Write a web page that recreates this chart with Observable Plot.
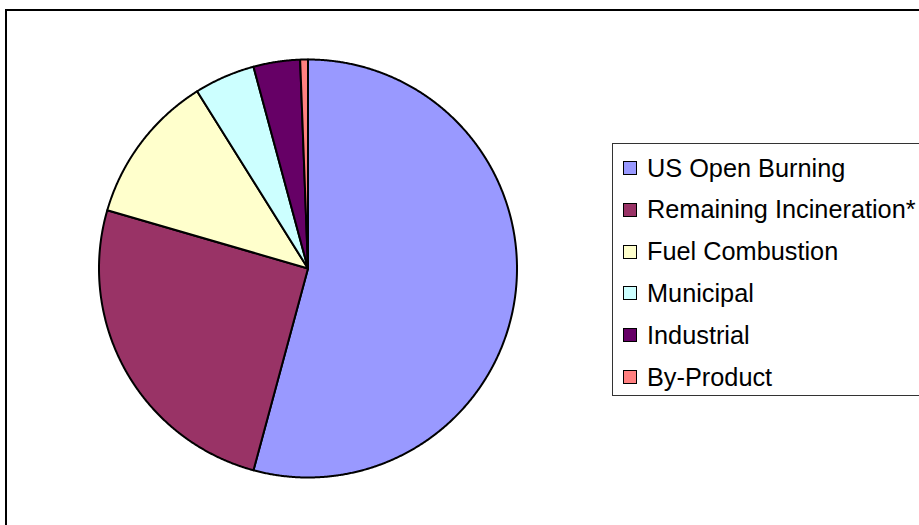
<!DOCTYPE html>
<html>
<head>
<meta charset="utf-8">
<script src="https://cdn.jsdelivr.net/npm/d3@7"></script>
<script src="https://cdn.jsdelivr.net/npm/@observablehq/plot@0.6"></script>
<style>
  html, body { margin: 0; padding: 0; background: #fff; }
  #wrap { position: relative; width: 919px; height: 525px; overflow: hidden; font-family: "Liberation Sans", Arial, sans-serif; }
  #frame { position: absolute; left: 5px; top: 9px; width: 1000px; height: 600px; border: 2px solid #000; box-sizing: border-box; }
  #plot { position: absolute; left: 0; top: 0; }
  #legend { position: absolute; left: 612px; top: 143px; width: 400px; height: 253px; border: 1px solid #333; box-sizing: border-box; background: #fff; }
  .item { position: absolute; left: 0; height: 30px; display: flex; align-items: center; }
  .sw { width: 14px; height: 14px; border: 1px solid #000; box-sizing: border-box; margin-left: 10px; margin-right: 10px; }
  .lbl { font-size: 25.3px; color: #000; white-space: nowrap; }
</style>
</head>
<body>
<div id="wrap">
  <div id="frame"></div>
  <div id="plot"></div>
  <div id="legend"></div>
</div>
<script>
const categories = ["US Open Burning", "Remaining Incineration*", "Fuel Combustion", "Municipal", "Industrial", "By-Product"];
const values = [54.2, 25.3, 11.6, 4.7, 3.6, 0.6];
const colors = ["#9999FF", "#993366", "#FFFFCC", "#CCFFFF", "#660066", "#FF8080"];

const arcs = d3.pie().sort(null).value(d => d)(values);
const rows = [];
arcs.forEach((a, i) => {
  const cat = categories[i];
  rows.push({cat, x: 0, y: 0});
  const n = Math.max(4, Math.ceil((a.endAngle - a.startAngle) / 0.005));
  for (let k = 0; k <= n; k++) {
    const t = a.startAngle + (a.endAngle - a.startAngle) * k / n;
    rows.push({cat, x: Math.sin(t), y: Math.cos(t)});
  }
  rows.push({cat, x: 0, y: 0});
});

const cx = 307.5, cy = 268, r = 209;
const chart = Plot.plot({
  width: 919,
  height: 525,
  margin: 0,
  x: {domain: [-1, 1], range: [cx - r, cx + r], axis: null},
  y: {domain: [-1, 1], range: [cy + r, cy - r], axis: null},
  color: {domain: categories, range: colors},
  style: {background: "transparent", overflow: "visible"},
  marks: [
    Plot.line(rows, {x: "x", y: "y", z: "cat", fill: "cat", stroke: "#000", strokeWidth: 2, strokeLinejoin: "round", curve: "linear"})
  ]
});
document.getElementById("plot").appendChild(chart);

const legend = document.getElementById("legend");
const firstCenter = 167 - 143;
categories.forEach((c, i) => {
  const it = document.createElement("div");
  it.className = "item";
  it.style.top = (firstCenter + i * 41.8 - 15) + "px";
  const sw = document.createElement("div");
  sw.className = "sw";
  sw.style.background = colors[i];
  const lb = document.createElement("span");
  lb.className = "lbl";
  lb.textContent = c;
  it.appendChild(sw);
  it.appendChild(lb);
  legend.appendChild(it);
});
</script>
</body>
</html>
